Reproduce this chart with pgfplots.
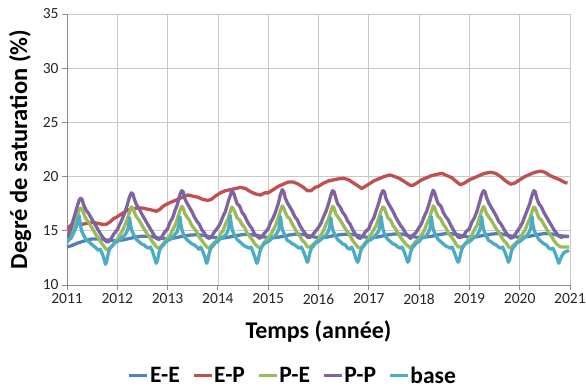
\documentclass[border=0pt]{standalone}
\usepackage{pgfplots}
\pgfplotsset{compat=1.18}
\usepackage{fontspec}
\setmainfont{Carlito}
\definecolor{cEE}{HTML}{4F81BD}
\definecolor{cEP}{HTML}{C0504D}
\definecolor{cPE}{HTML}{9BBB59}
\definecolor{cPP}{HTML}{8064A2}
\definecolor{cBa}{HTML}{4BACC6}
\definecolor{gridc}{HTML}{C8C8C8}
\definecolor{axc}{HTML}{8C8C8C}
\begin{document}
\begin{tikzpicture}
\begin{axis}[
  scale only axis, width=503pt, height=271pt,
  xmin=2011, xmax=2021, ymin=10, ymax=35,
  xtick={2011,2012,...,2021}, ytick={10,15,...,35},
  /pgf/number format/assume math mode=true,
  /pgf/number format/1000 sep={},
  tick label style={font=\fontsize{15.5}{18}\selectfont, text=black!85},
  grid=major, grid style={color=gridc, line width=0.7pt},
  axis lines*=left, axis line style={color=axc, line width=0.8pt},
  tick align=outside, major tick length=5pt, tick style={color=axc, line width=0.8pt},
  xlabel={Temps (année)}, ylabel={Degré de saturation (\%)},
  xlabel style={at={(axis description cs:0.5,-0.170)}, anchor=center, font=\fontsize{24}{28}\selectfont\bfseries},
  ylabel style={at={(axis description cs:-0.0934,0.5)}, rotate=0, anchor=center, font=\fontsize{24.5}{28}\selectfont\bfseries},
  legend columns=5,
  legend style={at={(axis description cs:0.449,-0.334)}, anchor=center, draw=none, fill=none,
    font=\fontsize{23.5}{26}\selectfont\bfseries, nodes={inner sep=1.5pt},
    /tikz/every even column/.append style={column sep=11pt}},
  legend image code/.code={\draw[#1, line width=2.4pt] (0pt,0pt) -- (18pt,0pt);},
  every axis plot/.append style={line width=3.3pt, line join=round},
]
\coordinate (ll) at (rel axis cs:0,0);
% E-E
\addplot[cEE] table {
x y
2011.00 13.5
2011.10 13.65
2011.20 13.85
2011.30 14.0
2011.40 14.15
2011.50 14.25
2011.60 14.25
2011.70 14.2
2011.80 14.15
2011.90 14.1
2012.00 14.1
2012.10 14.15
2012.20 14.25
2012.30 14.35
2012.40 14.45
2012.50 14.5
2012.60 14.5
2012.70 14.45
2012.80 14.35
2012.90 14.3
2013.00 14.25
2013.15 14.35
2013.30 14.5
2013.45 14.6
2013.60 14.65
2013.75 14.55
2013.90 14.4
2014.05 14.3
2014.20 14.4
2014.35 14.55
2014.50 14.65
2014.65 14.65
2014.80 14.55
2014.95 14.4
2015.10 14.35
2015.25 14.45
2015.40 14.6
2015.55 14.7
2015.70 14.65
2015.85 14.5
2016.00 14.35
2016.15 14.4
2016.30 14.55
2016.45 14.65
2016.60 14.7
2016.75 14.6
2016.90 14.45
2017.05 14.35
2017.20 14.45
2017.35 14.6
2017.50 14.7
2017.65 14.7
2017.80 14.55
2017.95 14.4
2018.10 14.4
2018.25 14.5
2018.40 14.65
2018.55 14.75
2018.70 14.7
2018.85 14.55
2019.00 14.4
2019.15 14.45
2019.30 14.6
2019.45 14.7
2019.60 14.75
2019.75 14.6
2019.90 14.45
2020.05 14.4
2020.20 14.5
2020.35 14.65
2020.50 14.75
2020.65 14.7
2020.80 14.55
2020.95 14.45
};
\addlegendentry{E-E}
% E-P
\addplot[cEP] table {
x y
2011.00 15.1
2011.05 15.4
2011.10 15.6
2011.20 15.7
2011.30 15.6
2011.40 15.7
2011.50 15.8
2011.60 15.7
2011.70 15.6
2011.78 15.6
2011.85 15.8
2011.92 16.1
2012.00 16.3
2012.10 16.6
2012.20 16.9
2012.30 17.0
2012.40 17.1
2012.50 17.1
2012.60 17.0
2012.70 16.9
2012.78 16.8
2012.85 17.0
2012.92 17.3
2013.00 17.5
2013.10 17.7
2013.20 17.9
2013.30 18.1
2013.40 18.3
2013.50 18.2
2013.60 18.1
2013.70 17.9
2013.80 17.8
2013.87 17.9
2013.95 18.2
2014.05 18.5
2014.15 18.7
2014.25 18.8
2014.35 18.9
2014.45 19.0
2014.55 18.9
2014.65 18.6
2014.75 18.4
2014.85 18.3
2014.93 18.5
2015.00 18.5
2015.10 18.8
2015.20 19.1
2015.30 19.3
2015.40 19.5
2015.50 19.5
2015.60 19.3
2015.70 19.0
2015.78 18.7
2015.85 18.7
2015.93 19.0
2016.00 19.1
2016.10 19.4
2016.20 19.6
2016.30 19.7
2016.40 19.8
2016.50 19.85
2016.60 19.7
2016.70 19.4
2016.80 19.1
2016.86 18.9
2016.93 19.1
2017.00 19.3
2017.10 19.6
2017.20 19.8
2017.30 20.0
2017.42 20.15
2017.52 20.0
2017.62 19.8
2017.72 19.5
2017.82 19.2
2017.88 19.2
2017.95 19.4
2018.05 19.7
2018.15 19.9
2018.25 20.1
2018.35 20.2
2018.45 20.3
2018.55 20.1
2018.65 19.9
2018.75 19.5
2018.82 19.25
2018.90 19.4
2019.00 19.7
2019.10 19.9
2019.20 20.1
2019.30 20.3
2019.42 20.4
2019.52 20.3
2019.62 20.0
2019.72 19.6
2019.82 19.3
2019.90 19.4
2020.00 19.7
2020.10 20.0
2020.20 20.2
2020.30 20.4
2020.42 20.5
2020.50 20.4
2020.60 20.1
2020.70 19.9
2020.80 19.7
2020.90 19.45
2020.95 19.4
};
\addlegendentry{E-P}
% P-E
\addplot[cPE] table {
x y
2011.00 14.0
2011.05 14.5
2011.10 15.0
2011.15 15.6
2011.20 16.3
2011.24 16.9
2011.27 17.1
2011.30 17.0
2011.34 16.5
2011.38 16.1
2011.43 15.8
2011.48 15.4
2011.53 15.0
2011.58 14.6
2011.63 14.3
2011.68 13.9
2011.73 13.6
2011.78 13.3
2011.83 13.3
2011.88 13.5
2011.93 13.8
2012.00 14.2
2012.05 14.6
2012.10 15.0
2012.15 15.5
2012.20 16.1
2012.24 16.7
2012.28 17.2
2012.31 17.1
2012.34 16.7
2012.38 16.3
2012.43 16.0
2012.48 15.6
2012.53 15.2
2012.58 14.8
2012.63 14.5
2012.68 14.1
2012.73 13.8
2012.78 13.5
2012.83 13.4
2012.88 13.6
2012.93 13.9
2013.00 14.3
2013.05 14.6
2013.10 15.1
2013.15 15.5
2013.20 16.2
2013.24 16.8
2013.28 17.25
2013.31 17.1
2013.34 16.6
2013.38 16.3
2013.43 16.0
2013.48 15.5
2013.53 15.2
2013.58 14.9
2013.63 14.4
2013.68 14.1
2013.73 13.8
2013.78 13.5
2013.83 13.4
2013.88 13.7
2013.93 13.9
2014.00 14.2
2014.05 14.7
2014.10 15.0
2014.15 15.6
2014.20 16.1
2014.24 16.7
2014.28 17.2
2014.31 17.0
2014.34 16.7
2014.38 16.2
2014.43 16.0
2014.48 15.6
2014.53 15.3
2014.58 14.8
2014.63 14.5
2014.68 14.2
2014.73 13.8
2014.78 13.6
2014.83 13.4
2014.88 13.6
2014.93 14.0
2015.00 14.3
2015.05 14.6
2015.10 15.1
2015.15 15.5
2015.20 16.2
2015.24 16.8
2015.28 17.3
2015.31 17.1
2015.34 16.7
2015.38 16.3
2015.43 16.1
2015.48 15.6
2015.53 15.2
2015.58 14.8
2015.63 14.5
2015.68 14.1
2015.73 13.9
2015.78 13.5
2015.83 13.5
2015.88 13.7
2015.93 13.9
2016.00 14.2
2016.05 14.6
2016.10 15.0
2016.15 15.6
2016.20 16.1
2016.24 16.7
2016.28 17.25
2016.31 17.1
2016.34 16.6
2016.38 16.3
2016.43 16.0
2016.48 15.6
2016.53 15.2
2016.58 14.9
2016.63 14.5
2016.68 14.1
2016.73 13.8
2016.78 13.5
2016.83 13.4
2016.88 13.6
2016.93 13.9
2017.00 14.3
2017.05 14.7
2017.10 15.1
2017.15 15.5
2017.20 16.2
2017.24 16.8
2017.28 17.2
2017.31 17.1
2017.34 16.7
2017.38 16.2
2017.43 16.0
2017.48 15.5
2017.53 15.2
2017.58 14.8
2017.63 14.4
2017.68 14.1
2017.73 13.8
2017.78 13.6
2017.83 13.4
2017.88 13.7
2017.93 14.0
2018.00 14.2
2018.05 14.6
2018.10 15.0
2018.15 15.6
2018.20 16.1
2018.24 16.7
2018.28 17.3
2018.31 17.1
2018.34 16.7
2018.38 16.3
2018.43 16.1
2018.48 15.6
2018.53 15.3
2018.58 14.8
2018.63 14.5
2018.68 14.2
2018.73 13.8
2018.78 13.5
2018.83 13.5
2018.88 13.6
2018.93 13.9
2019.00 14.3
2019.05 14.6
2019.10 15.1
2019.15 15.5
2019.20 16.2
2019.24 16.8
2019.28 17.25
2019.31 17.0
2019.34 16.6
2019.38 16.3
2019.43 16.0
2019.48 15.6
2019.53 15.2
2019.58 14.9
2019.63 14.5
2019.68 14.1
2019.73 13.9
2019.78 13.5
2019.83 13.4
2019.88 13.7
2019.93 13.9
2020.00 14.2
2020.05 14.7
2020.10 15.0
2020.15 15.6
2020.20 16.1
2020.24 16.7
2020.28 17.2
2020.31 17.1
2020.34 16.7
2020.38 16.2
2020.43 16.0
2020.48 15.6
2020.53 15.2
2020.58 14.8
2020.63 14.5
2020.68 14.1
2020.73 13.8
2020.78 13.6
2020.83 13.5
2020.88 13.5
2020.93 13.5
2020.98 13.5
};
\addlegendentry{P-E}
% P-P
\addplot[cPP] table {
x y
2011.00 14.4
2011.03 14.6
2011.06 15.0
2011.10 15.6
2011.15 16.4
2011.20 17.2
2011.24 17.8
2011.27 18.0
2011.30 17.9
2011.33 17.4
2011.38 16.9
2011.43 16.6
2011.48 16.2
2011.53 15.8
2011.58 15.4
2011.63 15.0
2011.68 14.6
2011.73 14.3
2011.78 14.0
2011.83 14.0
2011.88 14.3
2011.93 14.7
2012.00 15.1
2012.05 15.6
2012.10 16.1
2012.15 16.7
2012.20 17.4
2012.24 18.1
2012.28 18.5
2012.31 18.4
2012.34 17.9
2012.38 17.4
2012.43 17.1
2012.48 16.6
2012.53 16.2
2012.58 15.8
2012.63 15.4
2012.68 15.0
2012.73 14.6
2012.78 14.3
2012.83 14.2
2012.88 14.4
2012.93 14.8
2013.00 15.2
2013.05 15.8
2013.10 16.2
2013.15 16.9
2013.20 17.5
2013.24 18.3
2013.28 18.7
2013.31 18.6
2013.34 18.0
2013.38 17.6
2013.43 17.2
2013.48 16.8
2013.53 16.3
2013.58 15.9
2013.63 15.6
2013.68 15.1
2013.73 14.8
2013.78 14.4
2013.83 14.3
2013.88 14.5
2013.93 14.9
2014.00 15.3
2014.05 15.7
2014.10 16.3
2014.15 16.8
2014.20 17.6
2014.24 18.2
2014.28 18.7
2014.31 18.5
2014.34 18.1
2014.38 17.5
2014.43 17.3
2014.48 16.7
2014.53 16.4
2014.58 15.9
2014.63 15.5
2014.68 15.2
2014.73 14.7
2014.78 14.5
2014.83 14.3
2014.88 14.5
2014.93 14.8
2015.00 15.2
2015.05 15.8
2015.10 16.2
2015.15 16.8
2015.20 17.5
2015.24 18.3
2015.28 18.8
2015.31 18.6
2015.34 18.0
2015.38 17.6
2015.43 17.2
2015.48 16.8
2015.53 16.3
2015.58 16.0
2015.63 15.5
2015.68 15.1
2015.73 14.8
2015.78 14.4
2015.83 14.4
2015.88 14.6
2015.93 14.9
2016.00 15.3
2016.05 15.7
2016.10 16.3
2016.15 16.8
2016.20 17.5
2016.24 18.2
2016.28 18.7
2016.31 18.6
2016.34 18.1
2016.38 17.5
2016.43 17.2
2016.48 16.7
2016.53 16.4
2016.58 15.9
2016.63 15.6
2016.68 15.1
2016.73 14.7
2016.78 14.4
2016.83 14.3
2016.88 14.5
2016.93 14.9
2017.00 15.2
2017.05 15.8
2017.10 16.2
2017.15 16.9
2017.20 17.6
2017.24 18.3
2017.28 18.7
2017.31 18.6
2017.34 18.0
2017.38 17.6
2017.43 17.2
2017.48 16.8
2017.53 16.3
2017.58 15.9
2017.63 15.5
2017.68 15.2
2017.73 14.8
2017.78 14.5
2017.83 14.3
2017.88 14.6
2017.93 14.8
2018.00 15.3
2018.05 15.7
2018.10 16.3
2018.15 16.8
2018.20 17.5
2018.24 18.2
2018.28 18.75
2018.31 18.5
2018.34 18.0
2018.38 17.5
2018.43 17.3
2018.48 16.7
2018.53 16.3
2018.58 16.0
2018.63 15.5
2018.68 15.1
2018.73 14.7
2018.78 14.4
2018.83 14.4
2018.88 14.5
2018.93 14.9
2019.00 15.2
2019.05 15.8
2019.10 16.2
2019.15 16.8
2019.20 17.6
2019.24 18.3
2019.28 18.7
2019.31 18.6
2019.34 18.1
2019.38 17.6
2019.43 17.2
2019.48 16.8
2019.53 16.4
2019.58 15.9
2019.63 15.6
2019.68 15.2
2019.73 14.8
2019.78 14.5
2019.83 14.3
2019.88 14.5
2019.93 14.8
2020.00 15.3
2020.05 15.7
2020.10 16.3
2020.15 16.9
2020.20 17.5
2020.24 18.2
2020.28 18.7
2020.31 18.6
2020.34 18.0
2020.38 17.5
2020.43 17.2
2020.48 16.7
2020.53 16.3
2020.58 15.9
2020.63 15.5
2020.68 15.1
2020.73 14.8
2020.78 14.5
2020.83 14.4
2020.88 14.5
2020.93 14.5
2020.98 14.5
};
\addlegendentry{P-P}
% base
\addplot[cBa] table {
x y
2011.00 13.9
2011.04 14.2
2011.08 14.3
2011.12 14.7
2011.17 15.2
2011.21 15.8
2011.24 16.4
2011.265 15.6
2011.29 15.0
2011.33 14.6
2011.38 14.2
2011.43 14.0
2011.48 13.8
2011.53 13.6
2011.58 13.4
2011.62 13.2
2011.66 13.3
2011.70 12.9
2011.73 12.5
2011.765 11.9
2011.79 12.2
2011.82 12.9
2011.85 13.4
2011.90 13.6
2011.95 13.9
2012.00 14.0
2012.05 14.2
2012.10 14.4
2012.15 14.6
2012.19 14.9
2012.22 15.3
2012.245 16.2
2012.265 15.5
2012.29 15.0
2012.33 14.6
2012.38 14.2
2012.43 14.0
2012.48 13.8
2012.53 13.7
2012.58 13.5
2012.62 13.4
2012.66 13.5
2012.70 13.1
2012.74 12.5
2012.775 12.0
2012.80 12.3
2012.83 13.0
2012.86 13.4
2012.90 13.6
2012.95 13.9
2013.00 14.1
2013.05 14.2
2013.10 14.4
2013.15 14.7
2013.19 14.9
2013.22 15.4
2013.245 16.3
2013.265 15.6
2013.29 15.0
2013.33 14.5
2013.38 14.2
2013.43 14.0
2013.48 13.8
2013.53 13.7
2013.58 13.5
2013.62 13.3
2013.66 13.5
2013.70 13.1
2013.74 12.6
2013.775 12.0
2013.80 12.3
2013.83 13.0
2013.86 13.4
2013.90 13.6
2013.95 13.9
2014.00 14.0
2014.05 14.3
2014.10 14.4
2014.15 14.6
2014.19 14.9
2014.22 15.4
2014.245 16.4
2014.265 15.6
2014.29 15.0
2014.33 14.6
2014.38 14.2
2014.43 14.0
2014.48 13.8
2014.53 13.6
2014.58 13.5
2014.62 13.4
2014.66 13.5
2014.70 13.0
2014.74 12.5
2014.775 12.0
2014.80 12.3
2014.83 13.0
2014.86 13.4
2014.90 13.7
2014.95 13.9
2015.00 14.0
2015.05 14.2
2015.10 14.4
2015.15 14.6
2015.19 14.9
2015.22 15.3
2015.245 16.3
2015.265 15.5
2015.29 15.0
2015.33 14.6
2015.38 14.1
2015.43 14.0
2015.48 13.8
2015.53 13.7
2015.58 13.5
2015.62 13.4
2015.66 13.5
2015.70 13.1
2015.74 12.6
2015.775 12.1
2015.80 12.3
2015.83 13.0
2015.86 13.4
2015.90 13.6
2015.95 13.9
2016.00 14.0
2016.05 14.2
2016.10 14.4
2016.15 14.6
2016.19 14.9
2016.22 15.3
2016.245 16.2
2016.265 15.5
2016.29 15.0
2016.33 14.6
2016.38 14.2
2016.43 14.0
2016.48 13.8
2016.53 13.7
2016.58 13.4
2016.62 13.3
2016.66 13.5
2016.70 13.1
2016.74 12.5
2016.775 12.1
2016.80 12.3
2016.83 13.0
2016.86 13.4
2016.90 13.6
2016.95 13.9
2017.00 14.1
2017.05 14.2
2017.10 14.4
2017.15 14.7
2017.19 14.9
2017.22 15.4
2017.245 16.3
2017.265 15.6
2017.29 15.0
2017.33 14.5
2017.38 14.2
2017.43 14.0
2017.48 13.8
2017.53 13.7
2017.58 13.5
2017.62 13.4
2017.66 13.5
2017.70 13.1
2017.74 12.6
2017.775 12.1
2017.80 12.3
2017.83 13.0
2017.86 13.4
2017.90 13.6
2017.95 13.9
2018.00 14.0
2018.05 14.3
2018.10 14.4
2018.15 14.6
2018.19 14.9
2018.22 15.3
2018.245 16.3
2018.265 15.5
2018.29 15.0
2018.33 14.6
2018.38 14.2
2018.43 14.0
2018.48 13.8
2018.53 13.6
2018.58 13.5
2018.62 13.4
2018.66 13.5
2018.70 13.0
2018.74 12.5
2018.775 12.1
2018.80 12.3
2018.83 13.0
2018.86 13.4
2018.90 13.7
2018.95 13.9
2019.00 14.0
2019.05 14.2
2019.10 14.4
2019.15 14.6
2019.19 14.9
2019.22 15.3
2019.245 16.3
2019.265 15.5
2019.29 15.0
2019.33 14.6
2019.38 14.1
2019.43 14.0
2019.48 13.8
2019.53 13.7
2019.58 13.5
2019.62 13.4
2019.66 13.5
2019.70 13.1
2019.74 12.6
2019.775 12.1
2019.80 12.3
2019.83 13.0
2019.86 13.4
2019.90 13.6
2019.95 13.9
2020.00 14.0
2020.05 14.2
2020.10 14.4
2020.15 14.6
2020.19 14.9
2020.22 15.3
2020.245 16.3
2020.265 15.5
2020.29 15.0
2020.33 14.6
2020.38 14.2
2020.43 14.0
2020.48 13.8
2020.53 13.7
2020.58 13.4
2020.62 13.3
2020.66 13.4
2020.70 13.0
2020.74 12.5
2020.775 12.0
2020.80 12.3
2020.84 12.7
2020.88 13.0
2020.93 13.1
2020.98 13.2
};
\addlegendentry{base}
\end{axis}
\pgfresetboundingbox
\path (ll) ++(-67pt,-103pt) rectangle ++(586pt,388pt);
\end{tikzpicture}
\end{document}
